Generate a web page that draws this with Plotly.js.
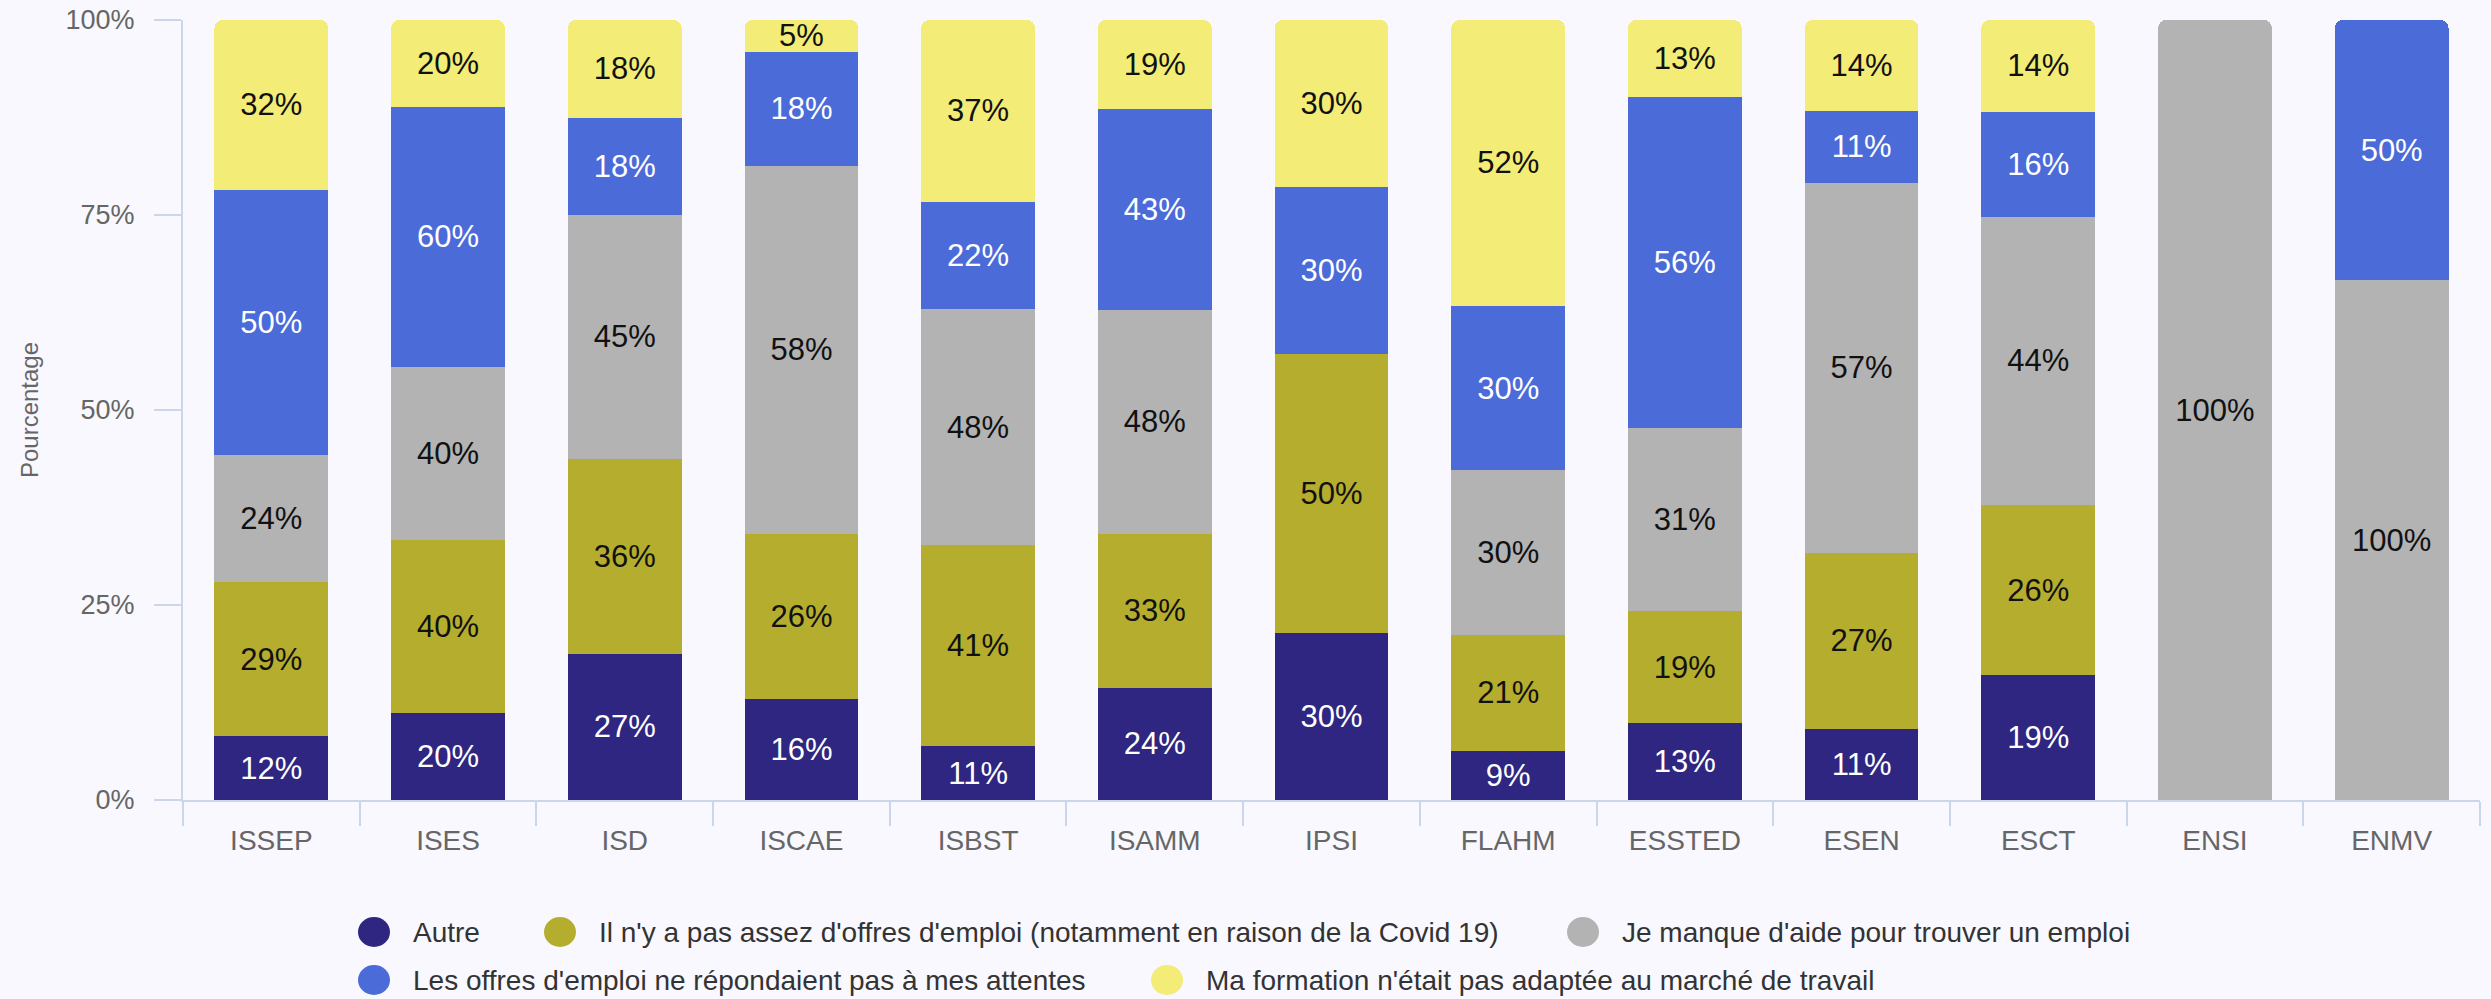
<!DOCTYPE html>
<html>
<head>
<meta charset="utf-8">
<script src="https://cdn.plot.ly/plotly-3.0.1.min.js"></script>
<style>
html,body{margin:0;padding:0;background:#f8f8fe;}
#chart{width:2491px;height:999px;}
</style>
</head>
<body>
<div id="chart"></div>
<script>
// ---- Data ----
const categories = ['ISSEP','ISES','ISD','ISCAE','ISBST','ISAMM','IPSI','FLAHM','ESSTED','ESEN','ESCT','ENSI','ENMV'];
const seriesNames = [
  'Autre',
  "Il n'y a pas assez d'offres d'emploi (notamment en raison de la Covid 19)",
  "Je manque d'aide pour trouver un emploi",
  "Les offres d'emploi ne répondaient pas à mes attentes",
  "Ma formation n'était pas adaptée au marché de travail"
];
const autre          = [12, 20, 27, 16, 11, 24, 30,  9, 13, 11, 19, null, null];
const pasAssezOffres = [29, 40, 36, 26, 41, 33, 50, 21, 19, 27, 26, null, null];
const manqueAide     = [24, 40, 45, 58, 48, 48, null, 30, 31, 57, 44, 100, 100];
const offresAttentes = [50, 60, 18, 18, 22, 43, 30, 30, 56, 11, 16, null, 50];
const formation      = [32, 20, 18,  5, 37, 19, 30, 52, 13, 14, 14, null, null];
const yTickVals = [0, 25, 50, 75, 100];

// ---- Styles ----
const colors = ['#2e2680', '#b5ad2d', '#b3b3b3', '#4b6bd9', '#f3ec77'];
const textColors = ['#ffffff', '#111111', '#111111', '#ffffff', '#111111'];
const FONT = 'Liberation Sans, Arial, sans-serif';
const W = 2491, H = 999;
const M = {l: 183, r: 11, t: 20, b: 199};
const PW = W - M.l - M.r, PH = H - M.t - M.b;
const axisColor = '#ccd6eb';

const seriesValues = [autre, pasAssezOffres, manqueAide, offresAttentes, formation];

const traces = seriesValues.map((vals, i) => ({
  type: 'bar',
  name: seriesNames[i],
  x: categories,
  y: vals,
  text: vals.map(v => v == null ? '' : v + '%'),
  textposition: 'inside',
  insidetextanchor: 'middle',
  textangle: 0,
  constraintext: 'none',
  insidetextfont: {family: FONT, size: 31, color: textColors[i]},
  marker: {color: colors[i], line: {width: 0}},
  showlegend: false,
  hoverinfo: 'x+name+text'
}));

// custom legend (circle symbols)
const legendPos = [[374, 932], [560, 932], [1583, 932], [374, 980], [1167, 980]];
const px2x = px => (px - M.l) / PW;
const py2y = py => (H - M.b - py) / PH;
const R = 16;
const shapes = [];
const annotations = [];
seriesNames.forEach((name, i) => {
  const [cx, cy] = legendPos[i];
  shapes.push({
    type: 'circle', xref: 'paper', yref: 'paper',
    x0: px2x(cx - R), x1: px2x(cx + R), y0: py2y(cy + R - 1), y1: py2y(cy - R + 1),
    fillcolor: colors[i], line: {width: 0}
  });
  annotations.push({
    xref: 'paper', yref: 'paper', x: px2x(cx + 37), y: py2y(cy),
    xanchor: 'left', yanchor: 'middle', showarrow: false,
    text: name, font: {family: FONT, size: 28, color: '#333333'}
  });
});

const layout = {
  width: W, height: H,
  margin: M,
  paper_bgcolor: '#f8f8fe',
  plot_bgcolor: '#f8f8fe',
  barmode: 'stack',
  barnorm: 'percent',
  barcornerradius: 8,
  bargap: 0.356,
  uniformtext: {minsize: 31, mode: 'show'},
  font: {family: FONT, size: 28, color: '#666666'},
  showlegend: false,
  xaxis: {
    type: 'category',
    tickson: 'boundaries',
    ticks: 'outside', ticklen: 24, tickwidth: 2, tickcolor: axisColor,
    showline: true, linecolor: axisColor, linewidth: 2,
    showgrid: false, zeroline: false,
    tickfont: {family: FONT, size: 28, color: '#666666'},
    ticklabelstandoff: 14,
    fixedrange: true
  },
  yaxis: {
    range: [0, 100],
    tickvals: yTickVals,
    ticktext: yTickVals.map(v => v + '%'),
    ticks: 'outside', ticklen: 27, tickwidth: 2, tickcolor: axisColor,
    showline: true, linecolor: axisColor, linewidth: 2,
    showgrid: false, zeroline: false,
    tickfont: {family: FONT, size: 27, color: '#666666'},
    ticklabelstandoff: 14,
    title: {text: 'Pourcentage', font: {family: FONT, size: 24, color: '#666666'}, standoff: 20},
    fixedrange: true
  },
  shapes: shapes,
  annotations: annotations
};

Plotly.newPlot('chart', traces, layout, {displayModeBar: false, staticPlot: true});
</script>
</body>
</html>
